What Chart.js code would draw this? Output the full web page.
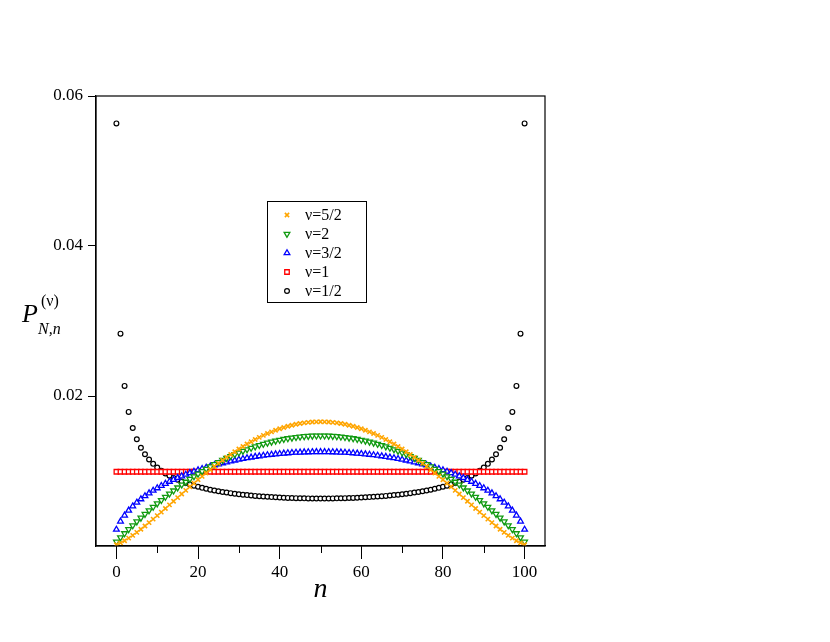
<!DOCTYPE html>
<html>
<head>
<meta charset="utf-8">
<script src="https://cdn.jsdelivr.net/npm/chart.js@4/dist/chart.umd.min.js"></script>
<style>
  html, body { margin: 0; padding: 0; background: #fff; }
  #wrap { width: 830px; height: 642px; }
</style>
</head>
<body>
<div id="wrap"><canvas id="c" width="830" height="642"></canvas></div>
<script>
// P_{N,n}^(nu) for N = 100
var nValues = [
  0, 1, 2, 3, 4, 5, 6, 7, 8, 9, 10, 11, 12, 13, 14, 15, 16, 17, 18, 19,
  20, 21, 22, 23, 24, 25, 26, 27, 28, 29, 30, 31, 32, 33, 34, 35, 36, 37, 38, 39,
  40, 41, 42, 43, 44, 45, 46, 47, 48, 49, 50, 51, 52, 53, 54, 55, 56, 57, 58, 59,
  60, 61, 62, 63, 64, 65, 66, 67, 68, 69, 70, 71, 72, 73, 74, 75, 76, 77, 78, 79,
  80, 81, 82, 83, 84, 85, 86, 87, 88, 89, 90, 91, 92, 93, 94, 95, 96, 97, 98, 99, 100
];

var nu52 = [
  0.000167, 0.000411, 0.000708, 0.001046, 0.001416, 0.001812, 0.002230, 0.002665, 0.003115, 0.003576,
  0.004045, 0.004522, 0.005003, 0.005486, 0.005971, 0.006456, 0.006938, 0.007418, 0.007893, 0.008364,
  0.008827, 0.009284, 0.009732, 0.010171, 0.010600, 0.011019, 0.011426, 0.011821, 0.012204, 0.012573,
  0.012929, 0.013270, 0.013596, 0.013908, 0.014203, 0.014483, 0.014746, 0.014992, 0.015222, 0.015434,
  0.015628, 0.015805, 0.015963, 0.016104, 0.016226, 0.016329, 0.016414, 0.016480, 0.016528, 0.016556,
  0.016565,
  0.016556, 0.016528, 0.016480, 0.016414, 0.016329, 0.016226, 0.016104, 0.015963, 0.015805, 0.015628,
  0.015434, 0.015222, 0.014992, 0.014746, 0.014483, 0.014203, 0.013908, 0.013596, 0.013270, 0.012929,
  0.012573, 0.012204, 0.011821, 0.011426, 0.011019, 0.010600, 0.010171, 0.009732, 0.009284, 0.008827,
  0.008364, 0.007893, 0.007418, 0.006938, 0.006456, 0.005971, 0.005486, 0.005003, 0.004522, 0.004045,
  0.003576, 0.003115, 0.002665, 0.002230, 0.001812, 0.001416, 0.001046, 0.000708, 0.000411, 0.000167
];

var nu2 = [
  0.000571, 0.001131, 0.001679, 0.002217, 0.002742, 0.003257, 0.003760, 0.004252, 0.004733, 0.005202,
  0.005660, 0.006107, 0.006542, 0.006966, 0.007379, 0.007781, 0.008171, 0.008550, 0.008917, 0.009273,
  0.009618, 0.009952, 0.010274, 0.010585, 0.010885, 0.011173, 0.011450, 0.011716, 0.011970, 0.012214,
  0.012445, 0.012666, 0.012875, 0.013073, 0.013260, 0.013435, 0.013599, 0.013752, 0.013893, 0.014023,
  0.014142, 0.014249, 0.014345, 0.014430, 0.014504, 0.014566, 0.014617, 0.014656, 0.014685, 0.014702,
  0.014707,
  0.014702, 0.014685, 0.014656, 0.014617, 0.014566, 0.014504, 0.014430, 0.014345, 0.014249, 0.014142,
  0.014023, 0.013893, 0.013752, 0.013599, 0.013435, 0.013260, 0.013073, 0.012875, 0.012666, 0.012445,
  0.012214, 0.011970, 0.011716, 0.011450, 0.011173, 0.010885, 0.010585, 0.010274, 0.009952, 0.009618,
  0.009273, 0.008917, 0.008550, 0.008171, 0.007781, 0.007379, 0.006966, 0.006542, 0.006107, 0.005660,
  0.005202, 0.004733, 0.004252, 0.003760, 0.003257, 0.002742, 0.002217, 0.001679, 0.001131, 0.000571
];

var nu32 = [
  0.002199, 0.003282, 0.004082, 0.004738, 0.005303, 0.005803, 0.006253, 0.006665, 0.007043, 0.007394,
  0.007722, 0.008028, 0.008316, 0.008587, 0.008843, 0.009085, 0.009314, 0.009531, 0.009737, 0.009933,
  0.010118, 0.010295, 0.010463, 0.010622, 0.010773, 0.010917, 0.011053, 0.011182, 0.011305, 0.011420,
  0.011530, 0.011632, 0.011729, 0.011820, 0.011905, 0.011984, 0.012058, 0.012126, 0.012189, 0.012246,
  0.012299, 0.012346, 0.012388, 0.012425, 0.012457, 0.012483, 0.012505, 0.012522, 0.012535, 0.012542,
  0.012545,
  0.012542, 0.012535, 0.012522, 0.012505, 0.012483, 0.012457, 0.012425, 0.012388, 0.012346, 0.012299,
  0.012246, 0.012189, 0.012126, 0.012058, 0.011984, 0.011905, 0.011820, 0.011729, 0.011632, 0.011530,
  0.011420, 0.011305, 0.011182, 0.011053, 0.010917, 0.010773, 0.010622, 0.010463, 0.010295, 0.010118,
  0.009933, 0.009737, 0.009531, 0.009314, 0.009085, 0.008843, 0.008587, 0.008316, 0.008028, 0.007722,
  0.007394, 0.007043, 0.006665, 0.006253, 0.005803, 0.005303, 0.004738, 0.004082, 0.003282, 0.002199
];

var nu1 = [
  0.0099, 0.0099, 0.0099, 0.0099, 0.0099, 0.0099, 0.0099, 0.0099, 0.0099, 0.0099,
  0.0099, 0.0099, 0.0099, 0.0099, 0.0099, 0.0099, 0.0099, 0.0099, 0.0099, 0.0099,
  0.0099, 0.0099, 0.0099, 0.0099, 0.0099, 0.0099, 0.0099, 0.0099, 0.0099, 0.0099,
  0.0099, 0.0099, 0.0099, 0.0099, 0.0099, 0.0099, 0.0099, 0.0099, 0.0099, 0.0099,
  0.0099, 0.0099, 0.0099, 0.0099, 0.0099, 0.0099, 0.0099, 0.0099, 0.0099, 0.0099,
  0.0099,
  0.0099, 0.0099, 0.0099, 0.0099, 0.0099, 0.0099, 0.0099, 0.0099, 0.0099, 0.0099,
  0.0099, 0.0099, 0.0099, 0.0099, 0.0099, 0.0099, 0.0099, 0.0099, 0.0099, 0.0099,
  0.0099, 0.0099, 0.0099, 0.0099, 0.0099, 0.0099, 0.0099, 0.0099, 0.0099, 0.0099,
  0.0099, 0.0099, 0.0099, 0.0099, 0.0099, 0.0099, 0.0099, 0.0099, 0.0099, 0.0099,
  0.0099, 0.0099, 0.0099, 0.0099, 0.0099, 0.0099, 0.0099, 0.0099, 0.0099, 0.0099
];

var nu12 = [
  0.056348, 0.028316, 0.021345, 0.017878, 0.015725, 0.014226, 0.013110, 0.012238, 0.011536, 0.010954,
  0.010464, 0.010044, 0.009680, 0.009361, 0.009079, 0.008828, 0.008602, 0.008399, 0.008215, 0.008048,
  0.007896, 0.007756, 0.007628, 0.007510, 0.007402, 0.007302, 0.007210, 0.007124, 0.007045, 0.006972,
  0.006905, 0.006842, 0.006785, 0.006731, 0.006682, 0.006637, 0.006596, 0.006558, 0.006523, 0.006492,
  0.006464, 0.006438, 0.006416, 0.006397, 0.006380, 0.006366, 0.006355, 0.006346, 0.006340, 0.006336,
  0.006334,
  0.006336, 0.006340, 0.006346, 0.006355, 0.006366, 0.006380, 0.006397, 0.006416, 0.006438, 0.006464,
  0.006492, 0.006523, 0.006558, 0.006596, 0.006637, 0.006682, 0.006731, 0.006785, 0.006842, 0.006905,
  0.006972, 0.007045, 0.007124, 0.007210, 0.007302, 0.007402, 0.007510, 0.007628, 0.007756, 0.007896,
  0.008048, 0.008215, 0.008399, 0.008602, 0.008828, 0.009079, 0.009361, 0.009680, 0.010044, 0.010464,
  0.010954, 0.011536, 0.012238, 0.013110, 0.014226, 0.015725, 0.017878, 0.021345, 0.028316, 0.056348
];

var seriesLabels = ['\u03bd=5/2', '\u03bd=2', '\u03bd=3/2', '\u03bd=1', '\u03bd=1/2'];
var xTicks = [0, 20, 40, 60, 80, 100];
var xMinorTicks = [10, 30, 50, 70, 90];
var yTicks = [0.02, 0.04, 0.06];

var SERIF = "'Liberation Serif', 'DejaVu Serif', serif";

function pts(ys) {
    return nValues.map(function (n, i) { return { x: n, y: ys[i] }; });
}

var styles = [
    { data: nu52, color: '#ffa500', fill: '#ffd27a', pointStyle: 'crossRot', radius: 3, borderWidth: 1.6, rotation: 0 },
    { data: nu2,  color: '#109a10', fill: '#ffffff', pointStyle: 'triangle', radius: 3.3, borderWidth: 1.3, rotation: 180 },
    { data: nu32, color: '#0000ff', fill: '#ffffff', pointStyle: 'triangle', radius: 3.3, borderWidth: 1.3, rotation: 0 },
    { data: nu1,  color: '#ff0000', fill: '#ffffff', pointStyle: 'rect', radius: 3.2, borderWidth: 1.3, rotation: 0 },
    { data: nu12, color: '#000000', fill: '#ffffff', pointStyle: 'circle', radius: 2.4, borderWidth: 1.2, rotation: 0 }
];

var datasets = styles.map(function (s, i) {
    return {
        label: seriesLabels[i],
        data: pts(s.data),
        showLine: false,
        pointStyle: s.pointStyle,
        pointRadius: s.radius,
        pointRotation: s.rotation,
        pointBorderColor: s.color,
        pointBackgroundColor: s.fill,
        pointBorderWidth: s.borderWidth,
        borderColor: s.color,
        backgroundColor: s.fill
    };
});

// frame, minor ticks, axis titles and the boxed legend
var decorPlugin = {
    id: 'decor',
    afterDraw: function (chart) {
        var ctx = chart.ctx;
        var a = chart.chartArea;
        var xs = chart.scales.x;
        ctx.save();
        ctx.strokeStyle = '#000';
        ctx.lineWidth = 1.2;
        ctx.strokeRect(a.left, a.top, a.right - a.left, a.bottom - a.top);

        ctx.lineWidth = 1;
        xMinorTicks.forEach(function (v) {
            var px = Math.round(xs.getPixelForValue(v)) + 0.5;
            ctx.beginPath();
            ctx.moveTo(px, a.bottom);
            ctx.lineTo(px, a.bottom + 7);
            ctx.stroke();
        });

        ctx.fillStyle = '#000';
        ctx.textBaseline = 'alphabetic';
        ctx.textAlign = 'center';
        ctx.font = 'italic 28px ' + SERIF;
        ctx.fillText('n', (a.left + a.right) / 2, 597);

        ctx.textAlign = 'left';
        ctx.font = 'italic 26px ' + SERIF;
        ctx.fillText('P', 22, 322);
        ctx.font = '16px ' + SERIF;
        ctx.fillText('(\u03bd)', 41, 306);
        ctx.font = 'italic 16px ' + SERIF;
        ctx.fillText('N,n', 38, 334);

        // legend box
        var lx = a.left + 171, ly = a.top + 105, lw = 99, lh = 101;
        ctx.lineWidth = 1;
        ctx.strokeRect(lx + 0.5, ly + 0.5, lw, lh);
        ctx.font = '16px ' + SERIF;
        ctx.textBaseline = 'middle';
        styles.forEach(function (s, i) {
            var cy = ly + 14 + i * 19;
            ctx.strokeStyle = s.color;
            ctx.fillStyle = s.fill;
            ctx.lineWidth = s.borderWidth;
            Chart.helpers.drawPoint(ctx, {
                pointStyle: s.pointStyle,
                radius: s.radius,
                rotation: s.rotation,
                borderWidth: s.borderWidth
            }, lx + 20, cy);
            ctx.fillStyle = '#000';
            ctx.fillText(seriesLabels[i], lx + 38, cy + 1);
        });
        ctx.restore();
    }
};

new Chart(document.getElementById('c').getContext('2d'), {
    type: 'scatter',
    data: { datasets: datasets },
    plugins: [decorPlugin],
    options: {
        responsive: false,
        animation: false,
        devicePixelRatio: 1,
        layout: { padding: { left: 0, top: 96, right: 285, bottom: 0 } },
        plugins: {
            legend: { display: false },
            tooltip: { enabled: false }
        },
        scales: {
            x: {
                type: 'linear',
                min: -5,
                max: 105,
                afterBuildTicks: function (s) { s.ticks = xTicks.map(function (v) { return { value: v }; }); },
                afterFit: function (s) { s.height = 96; },
                grid: { drawOnChartArea: false, drawTicks: true, tickLength: 13, color: '#000', tickWidth: 1 },
                border: { display: true, color: '#000', width: 1.2 },
                ticks: {
                    color: '#000',
                    font: { family: SERIF, size: 17 },
                    padding: 3,
                    maxRotation: 0,
                    autoSkip: false
                }
            },
            y: {
                type: 'linear',
                min: 0,
                max: 0.06,
                afterBuildTicks: function (s) { s.ticks = yTicks.map(function (v) { return { value: v }; }); },
                afterFit: function (s) { s.width = 96; },
                grid: { drawOnChartArea: false, drawTicks: true, tickLength: 8, color: '#000', tickWidth: 1 },
                border: { display: true, color: '#000', width: 1.2 },
                ticks: {
                    color: '#000',
                    font: { family: SERIF, size: 17 },
                    padding: 5,
                    callback: function (v) { return v.toFixed(2); }
                }
            }
        }
    }
});
</script>
</body>
</html>
